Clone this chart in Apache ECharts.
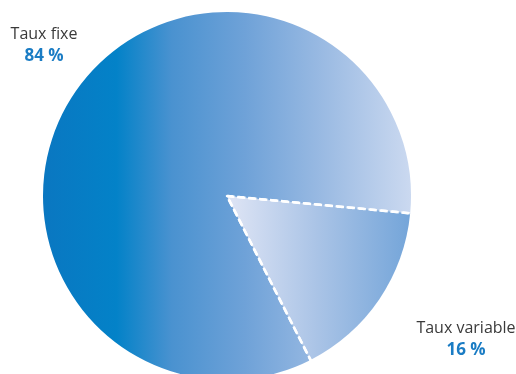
<!DOCTYPE html>
<html>
<head>
<meta charset="utf-8">
<style>
  html, body { margin: 0; padding: 0; background: #fff; }
  #main { width: 516px; height: 374px; }
</style>
<script src="https://cdn.jsdelivr.net/npm/echarts@6/dist/echarts.min.js"></script>
</head>
<body>
<div id="main"></div>
<script>
var categories = ['Taux fixe', 'Taux variable'];
var values = [84, 16];
// gradient de chaque part (gauche -> droite)
var sliceColors = [
    [[0, '#0a77c1'], [0.2, '#0382c8'], [0.35, '#4a92d0'], [0.55, '#6fa2d8'], [0.75, '#98b9e2'], [1, '#cbd9f0']],
    [[0, '#dfe5f5'], [0.5, '#a9c3e6'], [1, '#74a5d9']]
];

var myChart = echarts.init(document.getElementById('main'));

var pieData = categories.map(function(name, i) {
    return {
        name: name,
        value: values[i],
        itemStyle: {
            color: new echarts.graphic.LinearGradient(0, 0, 1, 0, sliceColors[i].map(function(s) {
                return { offset: s[0], color: s[1] };
            }))
        }
    };
});

var option = {
    backgroundColor: '#fff',
    animation: false,
    series: [{
        type: 'pie',
        center: [227, 196],
        radius: 184,
        startAngle: 297,
        clockwise: true,
        silent: true,
        itemStyle: { borderWidth: 0 },
        label: {
            show: true,
            position: 'outside',
            overflow: 'none',
            width: 200,
            fontFamily: 'Open Sans',
            formatter: '{n|{b}}\n{p|{c} %}',
            rich: {
                n: { fontSize: 16, color: '#3a3a3a', fontFamily: 'Open Sans', lineHeight: 22, align: 'center' },
                p: { fontSize: 17, fontWeight: 'bold', color: '#1a7cc4', fontFamily: 'Open Sans', lineHeight: 22, align: 'center' }
            }
        },
        labelLine: { show: false },
        labelLayout: function(params) {
            // étiquettes placées dans les coins comme l'original
            if (params.dataIndex === 0) {
                return { x: 44, y: 45, align: 'center', verticalAlign: 'middle' };
            }
            return { x: 466, y: 339, align: 'center', verticalAlign: 'middle' };
        },
        data: pieData
    }, {
        // contour pointillé blanc, un peu plus grand pour cacher l'arc extérieur
        type: 'pie',
        center: [227, 196],
        radius: 187,
        startAngle: 297,
        clockwise: true,
        silent: true,
        label: { show: false },
        labelLine: { show: false },
        itemStyle: {
            color: 'rgba(0,0,0,0)',
            borderColor: '#fff',
            borderWidth: 2.5,
            borderType: [7, 4]
        },
        data: categories.map(function(name, i) {
            return { name: name, value: values[i] };
        })
    }]
};

myChart.setOption(option);
</script>
</body>
</html>
